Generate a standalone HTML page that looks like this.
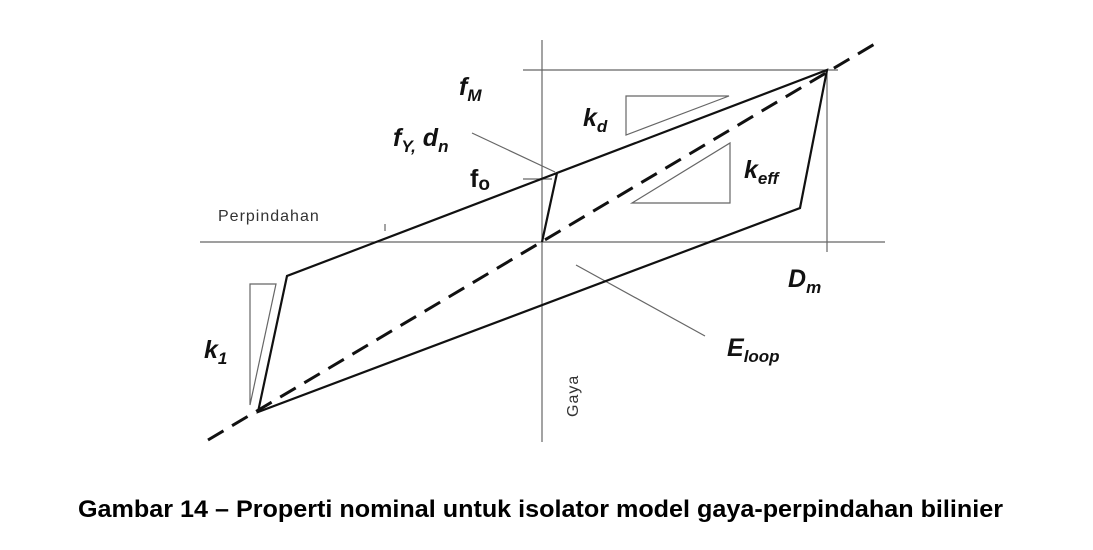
<!DOCTYPE html>
<html><head><meta charset="utf-8"><style>html,body{margin:0;padding:0;background:#fff;}svg{display:block}</style></head>
<body>
<svg width="1093" height="550" viewBox="0 0 1093 550" xmlns="http://www.w3.org/2000/svg" font-family="Liberation Sans, Arial, sans-serif">
<rect width="1093" height="550" fill="#fff"/>
<g stroke="#666" stroke-width="1.2" fill="none">
<line x1="542" y1="40" x2="542" y2="442"/>
<line x1="200" y1="242" x2="885" y2="242"/>
<line x1="523" y1="70" x2="838" y2="70"/>
<line x1="827" y1="70" x2="827" y2="252"/>
<line x1="523" y1="179" x2="552" y2="179"/>
<polygon points="626,96 729,96 626,135"/>
<polygon points="730,143 730,203 632,203"/>
<polygon points="250,284 276,284 250,405"/>
<line x1="472" y1="133" x2="555" y2="172"/>
<line x1="576" y1="265" x2="705" y2="336"/>
<line x1="385" y1="224" x2="385" y2="231"/>
</g>
<g stroke="#111" stroke-width="2.2" fill="none" stroke-linejoin="miter">
<polyline points="542,242 557,173 827,70 800,208 258,412 287,276 557,173"/>
</g>
<line x1="208" y1="440" x2="878" y2="42" stroke="#111" stroke-width="3" stroke-dasharray="18,10"/>
<g font-weight="bold" font-style="italic" fill="#111">
<text x="459" y="95" font-size="25">f<tspan font-size="17" dy="6">M</tspan></text>
<text x="393" y="146" font-size="25">f<tspan font-size="17" dy="6">Y,</tspan><tspan dy="-6"> d</tspan><tspan font-size="17" dy="6">n</tspan></text>
<text x="583" y="126" font-size="25">k<tspan font-size="17" dy="6">d</tspan></text>
<text x="744" y="178" font-size="25">k<tspan font-size="17" dy="6">eff</tspan></text>
<text x="788" y="287" font-size="25">D<tspan font-size="17" dy="6">m</tspan></text>
<text x="727" y="356" font-size="25">E<tspan font-size="17" dy="6">loop</tspan></text>
<text x="204" y="358" font-size="25">k<tspan font-size="17" dy="6">1</tspan></text>
</g>
<text x="470" y="187" font-size="25" font-weight="bold" fill="#111">f<tspan font-size="19" dy="3">o</tspan></text>
<text x="218" y="221" font-size="16" fill="#333" letter-spacing="1">Perpindahan</text>
<text transform="translate(578,417) rotate(-90)" font-size="16" fill="#333" letter-spacing="1">Gaya</text>
<text x="78" y="517" font-size="24" font-weight="bold" fill="#000" textLength="925" lengthAdjust="spacingAndGlyphs">Gambar 14 – Properti nominal untuk isolator model gaya-perpindahan bilinier</text>
</svg>
</body></html>
